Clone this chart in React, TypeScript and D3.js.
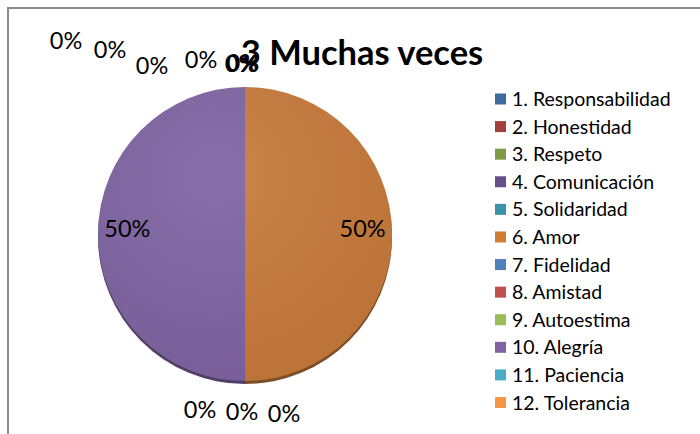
import React from "react";
import * as d3 from "d3";

const categories = [
  "1. Responsabilidad",
  "2. Honestidad",
  "3. Respeto",
  "4. Comunicación",
  "5. Solidaridad",
  "6. Amor",
  "7. Fidelidad",
  "8. Amistad",
  "9. Autoestima",
  "10. Alegría",
  "11. Paciencia",
  "12. Tolerancia",
];
const values = [0, 0, 0, 0, 0, 1, 0, 0, 0, 1, 0, 0];
const legendColors = [
  "#3E6A9F", "#A23E3B", "#7E9C47", "#67508A", "#3A92A9", "#D27D36",
  "#4F81BD", "#C0504D", "#9BBB59", "#8064A2", "#4BACC6", "#F79646",
];
const sliceColors = [
  "#3E6A9F", "#A23E3B", "#7E9C47", "#67508A", "#3A92A9", "#C77A3B",
  "#4F81BD", "#C0504D", "#9BBB59", "#8064A2", "#4BACC6", "#F79646",
];
const titleText = "3 Muchas veces";
// manual label placement (Excel-style), offsets from pie centre: [dx, dy baseline]
const labelOffsets: [number, number][] = [
  [-179, -185], [-135, -176], [-93, -160], [-44, -166], [-3, -162],
  [0, 0], [39, 188], [-3, 186], [-45, 184], [0, 0], [-2, -163], [-4, -162],
];

const W = 700;
const H = 434;
const cx = 245;
const cy = 234;
const R = 147;

export default function App() {
  const pie = d3.pie<number>().sort(null).value((d) => d)(values);
  const arc = d3.arc<d3.PieArcDatum<number>>().innerRadius(0).outerRadius(R);
  const total = d3.sum(values);
  const fmt = d3.format(".0%");
  const legendY = d3.scaleLinear().domain([0, 11]).range([99, 402.5]);

  return (
    <svg
      width={W}
      height={H}
      style={{ position: "absolute", left: 0, top: 0, display: "block", background: "#fff" }}
      fontFamily="Lato, 'Open Sans', sans-serif"
    >
      <defs>
        <radialGradient id="shine" cx="40%" cy="30%" r="75%">
          <stop offset="0%" stopColor="#fff" stopOpacity={0.08} />
          <stop offset="100%" stopColor="#000" stopOpacity={0.06} />
        </radialGradient>
      </defs>
      <rect x={8} y={8} width={W + 20} height={H + 20} fill="#fff" stroke="#8c8c8c" strokeWidth={2} />
      {/* shadow */}
      <g transform={`translate(${cx},${cy + 3})`}>
        {pie.map((p, i) =>
          p.value > 0 ? (
            <path key={i} d={arc(p) || ""} fill={d3.color(sliceColors[i])!.darker(1.3).toString()} />
          ) : null
        )}
      </g>
      <g transform={`translate(${cx},${cy})`}>
        {pie.map((p, i) =>
          p.value > 0 ? <path key={i} d={arc(p) || ""} fill={sliceColors[i]} /> : null
        )}
        <circle r={R} fill="url(#shine)" />
      </g>
      {/* labels */}
      {pie.map((p, i) => {
        let x: number, y: number;
        if (p.value > 0) {
          const a = (p.startAngle + p.endAngle) / 2;
          x = cx + Math.sin(a) * R * 0.8;
          y = cy - Math.cos(a) * R * 0.8 + 3;
        } else {
          x = cx + labelOffsets[i][0];
          y = cy + labelOffsets[i][1];
        }
        return (
          <text key={i} x={x} y={y} textAnchor="middle" fontSize={23.5} fill="#000">
            {fmt(p.value / total)}
          </text>
        );
      })}
      <text x={362} y={65} textAnchor="middle" fontSize={34.5} fontWeight="bold" fill="#000">
        {titleText}
      </text>
      {categories.map((c, i) => (
        <g key={c} transform={`translate(0,${legendY(i)})`}>
          <rect x={495} y={-5.5} width={11} height={11} fill={legendColors[i]} />
          <text x={512} y={7} fontSize={19.5} fill="#000">
            {c}
          </text>
        </g>
      ))}
    </svg>
  );
}
